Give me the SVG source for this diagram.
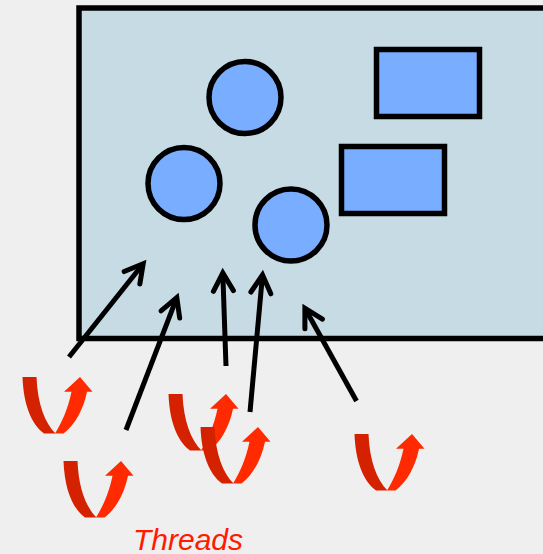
<svg xmlns="http://www.w3.org/2000/svg" width="543" height="554" viewBox="0 0 543 554">
  <style>
    .frame { fill: #c7dbe4; stroke: #000; stroke-width: 5.5; }
    .obj { fill: #79adff; stroke: #000; stroke-width: 5.5; }
    .link { fill: none; stroke: #000; stroke-width: 5; marker-end: url(#chev); }
    .front { fill: #d42200; }
    .back { fill: #ff2a00; }
    .label { font-family: "Liberation Sans", Arial, sans-serif; font-style: italic; font-size: 30px; fill: #ff1a00; }
  </style>
  <defs>
    <marker id="chev" markerUnits="userSpaceOnUse" markerWidth="40" markerHeight="40" refX="0" refY="0" orient="auto" overflow="visible">
      <path d="M-18,-10 L0,0 L-18,10" fill="none" stroke="#000" stroke-width="5" stroke-linecap="round" stroke-linejoin="miter"/>
    </marker>
    <!-- U-turn thread ribbon, origin at top-left of the front band -->
    <g id="thread">
      <path class="front" d="M0.5,0 L14.5,0 C15.5,27 23,46 33.5,56.5 L22,56.5 C9,47 1.5,27 0.5,0 Z"/>
      <path class="back" d="M33,56.5 C39.5,46 46,32 49.5,14.7 L42,14.7 L58,0 L70.5,14.7 L65,14.7 C61.5,32 53,48 41.5,56.5 Z"/>
    </g>
  </defs>

  <rect width="543" height="554" fill="#efefef"/>

  <g id="space">
    <rect class="frame" x="79" y="8" width="480" height="330.5"/>
  </g>

  <g id="obj-1"><circle class="obj" cx="245" cy="97.5" r="36"/></g>
  <g id="obj-2"><circle class="obj" cx="184" cy="183.5" r="36"/></g>
  <g id="obj-3"><circle class="obj" cx="291" cy="225" r="36"/></g>
  <g id="obj-4"><rect class="obj" x="376.5" y="49.5" width="103" height="67"/></g>
  <g id="obj-5"><rect class="obj" x="341.5" y="146.5" width="103" height="67"/></g>

  <g id="connectors">
    <line class="link" x1="69" y1="357" x2="143.2" y2="263.7"/>
    <line class="link" x1="126" y1="430" x2="176.8" y2="297.6"/>
    <line class="link" x1="226" y1="366" x2="222.8" y2="273"/>
    <line class="link" x1="250" y1="412" x2="262.5" y2="275"/>
    <line class="link" x1="356.5" y1="401" x2="304.9" y2="308.2"/>
  </g>

  <g id="thread-1"><use href="#thread" x="22" y="377"/></g>
  <g id="thread-2"><use href="#thread" x="63" y="461"/></g>
  <g id="thread-3"><use href="#thread" x="168" y="394"/></g>
  <g id="thread-4"><use href="#thread" x="200" y="427"/></g>
  <g id="thread-5"><use href="#thread" x="354" y="434"/></g>

  <g id="threads-label">
    <text class="label" x="133" y="550">Threads</text>
  </g>
</svg>
